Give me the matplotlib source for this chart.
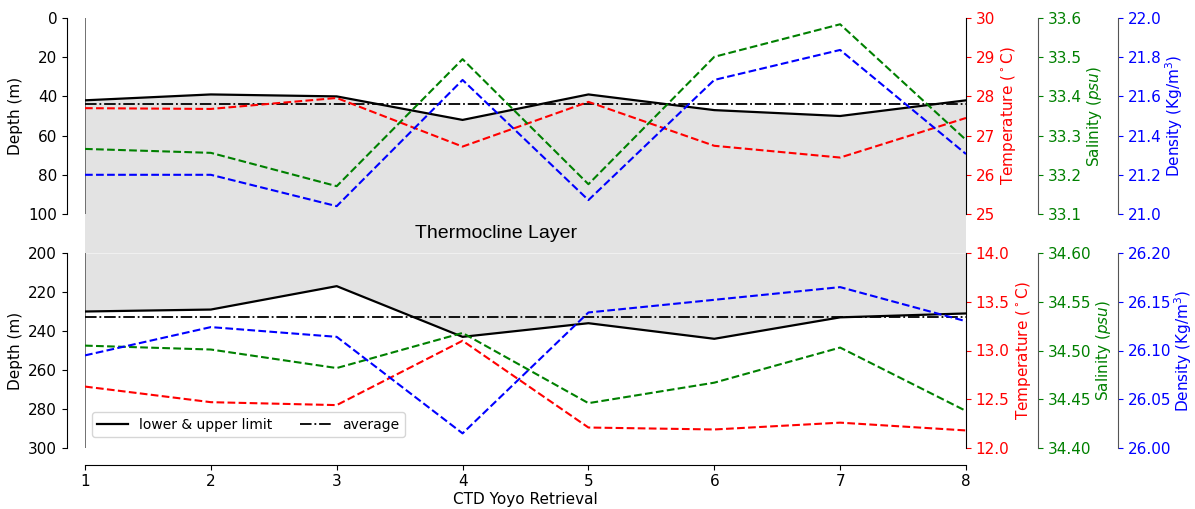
import numpy as np
import matplotlib.pyplot as plt
from matplotlib.patches import Rectangle

plt.rcParams['font.family'] = ['DejaVu Sans']

retrieval = [1, 2, 3, 4, 5, 6, 7, 8]

# upper panel (top of thermocline)
upper_limit = [42, 39, 40, 52, 39, 47, 50, 42]
upper_avg = 44
upper_temp = [27.70, 27.68, 27.96, 26.72, 27.86, 26.74, 26.44, 27.45]
upper_sal = [33.266, 33.256, 33.171, 33.495, 33.176, 33.501, 33.584, 33.289]
upper_den = [21.20, 21.20, 21.04, 21.684, 21.071, 21.684, 21.837, 21.306]

# lower panel (bottom of thermocline)
lower_limit = [230, 229, 217, 243, 236, 244, 233, 231]
lower_avg = 233
lower_temp = [12.63, 12.47, 12.44, 13.10, 12.21, 12.19, 12.26, 12.18]
lower_sal = [34.505, 34.501, 34.482, 34.518, 34.446, 34.467, 34.503, 34.438]
lower_den = [26.095, 26.124, 26.114, 26.015, 26.139, 26.152, 26.165, 26.130]

W, H = 1195, 509
fig = plt.figure(figsize=(W / 100, H / 100), dpi=100)
ax1 = fig.add_axes([85 / W, 1 - 214 / H, 881 / W, 196 / H])
ax2 = fig.add_axes([85 / W, 1 - 448 / H, 881 / W, 195 / H])

fill_c = '#e3e3e3'
x = np.array(retrieval)


def setup_twins(ax, t_lim, t_ticks, s_lim, s_ticks, d_lim, d_ticks, fmt):
    t = ax.twinx()
    s = ax.twinx()
    d = ax.twinx()
    s.spines['right'].set_position(('axes', 1 + 72 / 881))
    d.spines['right'].set_position(('axes', 1 + 152 / 881))
    for a, col, spc in [(t, 'red', 'black'), (s, 'green', '#555555'), (d, 'blue', '#555555')]:
        for sp in ['top', 'left', 'bottom']:
            a.spines[sp].set_visible(False)
        a.spines['right'].set_color(spc)
        a.tick_params(axis='y', colors=col, labelsize=11)
    t.set_ylim(*t_lim)
    t.set_yticks(t_ticks)
    s.set_ylim(*s_lim)
    s.set_yticks(s_ticks)
    d.set_ylim(*d_lim)
    d.set_yticks(d_ticks)
    t.set_yticklabels([fmt[0] % v for v in t_ticks])
    s.set_yticklabels([fmt[1] % v for v in s_ticks])
    d.set_yticklabels([fmt[2] % v for v in d_ticks])
    t.set_ylabel('Temperature ($^\\circ$C)', color='red', fontsize=11, labelpad=3)
    s.set_ylabel('Salinity ($psu$)', color='green', fontsize=11, labelpad=2)
    d.set_ylabel('Density (Kg/m$^3$)', color='blue', fontsize=11, labelpad=1)
    return t, s, d


for ax, lim, ticks in [(ax1, (100, 0), np.arange(0, 101, 20)),
                       (ax2, (300, 200), np.arange(200, 301, 20))]:
    ax.set_xlim(1, 8)
    ax.set_ylim(*lim)
    ax.set_yticks(ticks)
    ax.spines['top'].set_visible(False)
    ax.spines['right'].set_visible(False)
    ax.spines['left'].set_position(('outward', 13))
    ax.tick_params(axis='y', labelsize=11)
    ax.set_ylabel('Depth (m)', fontsize=11)
    ax.axvline(1, color='0.35', lw=1.2, zorder=3)

# upper panel
ax1.spines['bottom'].set_visible(False)
ax1.set_xticks([])
ax1.fill_between(x, upper_limit, 100, color=fill_c, lw=0, zorder=1)
ax1.plot(x, upper_limit, color='black', lw=1.6, zorder=4)
ax1.axhline(upper_avg, color='black', ls='-.', lw=1.3, zorder=4)
t1, s1, d1 = setup_twins(ax1, (25, 30), np.arange(25, 31, 1),
                         (33.1, 33.6), np.arange(33.1, 33.61, 0.1),
                         (21.0, 22.0), np.arange(21.0, 22.01, 0.2),
                         ('%d', '%.1f', '%.1f'))
t1.plot(x, upper_temp, color='red', ls='--', lw=1.5)
s1.plot(x, upper_sal, color='green', ls='--', lw=1.5)
d1.plot(x, upper_den, color='blue', ls='--', lw=1.5)

# lower panel
ax2.spines['bottom'].set_position(('outward', 12))
ax2.set_xticks(retrieval)
ax2.tick_params(axis='x', labelsize=11)
ax2.set_xlabel('CTD Yoyo Retrieval', fontsize=11, labelpad=2)
ax2.fill_between(x, 200, lower_limit, color=fill_c, lw=0, zorder=1)
l1, = ax2.plot(x, lower_limit, color='black', lw=1.6, zorder=4,
               label='lower & upper limit')
l2 = ax2.axhline(lower_avg, color='black', ls='-.', lw=1.3, zorder=4,
                 label='average')
t2, s2, d2 = setup_twins(ax2, (12, 14), np.arange(12, 14.01, 0.5),
                         (34.40, 34.60), np.arange(34.40, 34.601, 0.05),
                         (26.00, 26.20), np.arange(26.00, 26.201, 0.05),
                         ('%.1f', '%.2f', '%.2f'))
t2.plot(x, lower_temp, color='red', ls='--', lw=1.5)
s2.plot(x, lower_sal, color='green', ls='--', lw=1.5)
d2.plot(x, lower_den, color='blue', ls='--', lw=1.5)
d2.legend([l1, l2], ['lower & upper limit', 'average'], ncol=2,
          loc='lower left', bbox_to_anchor=(0.0, 0.02), fontsize=10,
          handlelength=2.2, columnspacing=2.0)

# gap between the panels belongs to the thermocline too
p1 = ax1.get_position()
p2 = ax2.get_position()
fig.add_artist(Rectangle((p1.x0, p2.y1), p1.width, p1.y0 - p2.y1,
                         transform=fig.transFigure, color=fill_c, lw=0, zorder=0))
fig.text((418 + 575) / 2 / W, 1 - 234 / H, 'Thermocline Layer',
         family='Liberation Sans', fontsize=14, ha='center', va='center')

fig.savefig('out.png', dpi=100)
